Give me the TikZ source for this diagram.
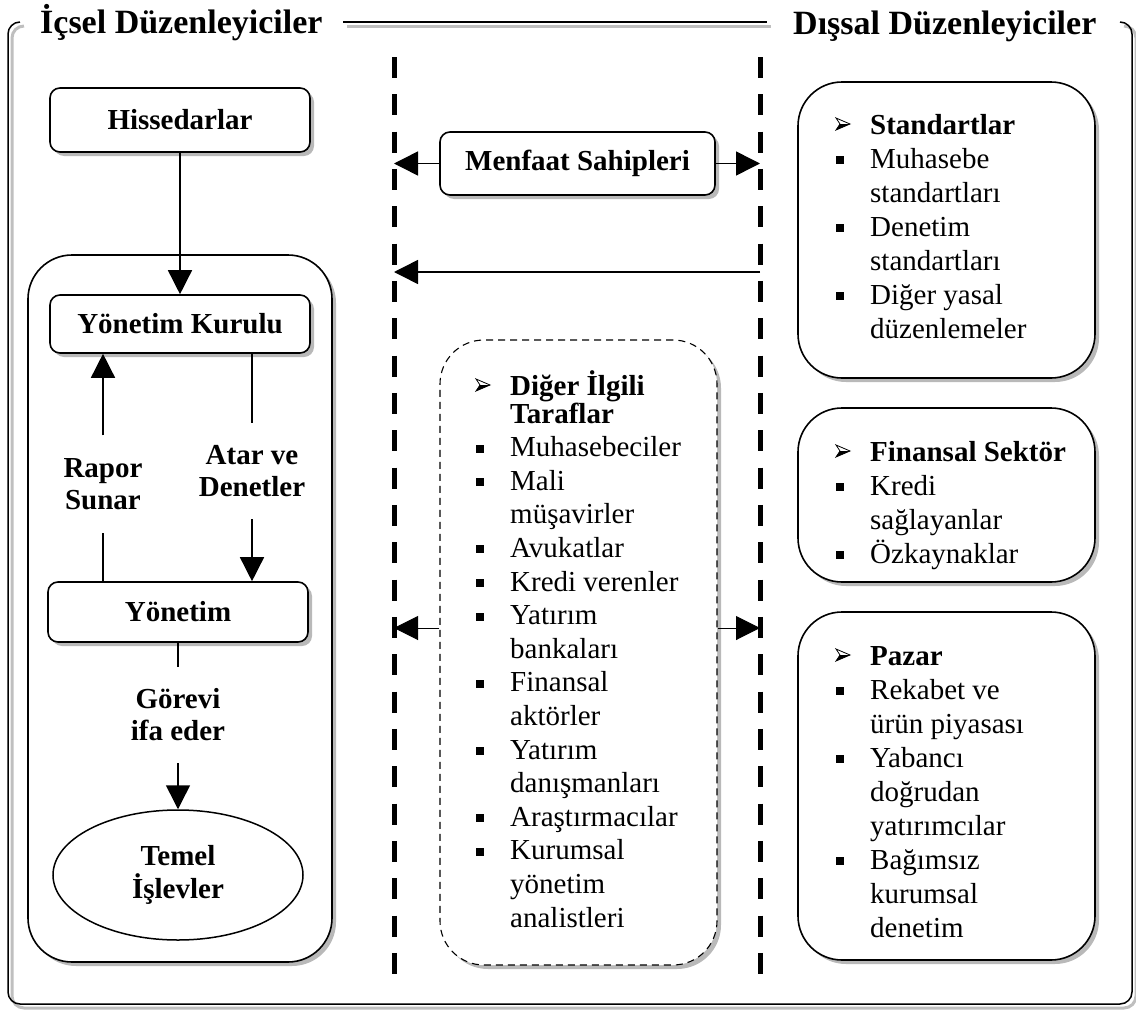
\documentclass[tikz,border=0pt]{standalone}
\usepackage{fontspec}
\setmainfont{Liberation Serif}
\usetikzlibrary{arrows.meta,shapes.geometric,shadows}

% list markers: small square for items, blank indent for headings and wrapped lines
\newcommand\itembul{\makebox[34pt][l]{\rule[4pt]{8pt}{8pt}}}
\newcommand\itemcont{\hspace*{34pt}}

\tikzset{
  softshadow/.style={general shadow={fill=gray!55, shadow xshift=4pt, shadow yshift=-4pt}},
  headbox/.style={draw, line width=1.6pt, fill=white, rounded corners=10pt, softshadow,
    font=\bfseries\fontsize{29}{32}\selectfont, inner sep=0pt},
  panel/.style={draw, line width=1.6pt, fill=white, rounded corners=44pt, softshadow, inner sep=0pt},
  dashpanel/.style={draw, line width=1.1pt, dash pattern=on 7pt off 5pt, fill=white,
    rounded corners=44pt, softshadow, inner sep=0pt},
  oval/.style={ellipse, draw, line width=1.5pt, fill=white, align=center,
    font=\bfseries\fontsize{29}{33}\selectfont, inner sep=0pt},
  flowlabel/.style={align=center, font=\bfseries\fontsize{29}{32}\selectfont, inner sep=0pt},
  listtext/.style={anchor=base west, inner sep=0pt, font=\fontsize{29}{34}\selectfont},
  title/.style={anchor=base west, inner sep=0pt, font=\bfseries\fontsize{34}{40}\selectfont},
  link/.style={line width=1.5pt},
  arrowlink/.style={line width=1.5pt, -{Triangle[length=24pt,width=24pt]}},
  thinarrow/.style={line width=1pt, -{Triangle[length=24pt,width=24pt]}},
  divider/.style={line width=5pt, dash pattern=on 21pt off 16.33pt},
  frameline/.style={line width=1.5pt},
  frameshade/.style={line width=3pt, draw=gray!50},
  % 3D arrowhead placed on a heading's baseline
  headmark/.pic={
    \fill (0,-4) -- (14,-10) -- (4,-10) -- cycle;
    \draw[line width=0.8pt, line join=miter] (0,-16) -- (14,-10) -- (0,-4) -- (4,-10) -- cycle;
  },
}

\begin{document}
\begin{tikzpicture}[x=1pt,y=-1pt]
\useasboundingbox (0,0) rectangle (1136,1012);

% outer frame with its shade, open at the two titles
\draw[frameshade] (24,26) [rounded corners=12pt] -- (12,26) -- (12,1008) -- (1136,1008) -- (1136,26) -- (1124,26);
\draw[frameshade] (347,26) -- (771,26);
\draw[frameline] (20,22) [rounded corners=12pt] -- (8,22) -- (8,1004) -- (1132,1004) -- (1132,22) -- (1120,22);
\draw[frameline, line width=2pt] (343,22) -- (767,22);

\node[title] (tin) at (40,33) {İçsel Düzenleyiciler};
\node[title] (tout) at (793,34) {Dışsal Düzenleyiciler};

% internal governance column
\node[panel, minimum width=304pt, minimum height=707pt] (inner) at (180,608.5) {};
\node[headbox, minimum width=260pt, minimum height=64pt] (hiss) at (180,120) {Hissedarlar};
\node[headbox, minimum width=260pt, minimum height=58pt] (kurul) at (180,324) {Yönetim Kurulu};
\node[headbox, minimum width=260pt, minimum height=60pt] (yon) at (178,612) {Yönetim};
\node[oval, minimum width=250pt, minimum height=130pt] (temel) at (178,875) {Temel\\İşlevler};

\draw[arrowlink] (hiss.south) -- (kurul.north);

\node[flowlabel, minimum height=97pt] (rapor) at (103,484) {Rapor\\Sunar};
\draw[link] (yon.north -| rapor) -- (rapor.south);
\draw[arrowlink] (rapor.north) -- (kurul.south -| rapor);

\node[flowlabel, minimum height=96pt] (atar) at (252,471) {Atar ve\\Denetler};
\draw[link] (kurul.south -| atar) -- (atar.north);
\draw[arrowlink] (atar.south) -- (yon.north -| atar);

\node[flowlabel, minimum height=96pt] (gorev) at (178,715) {Görevi\\ifa eder};
\draw[link] (yon.south) -- (gorev.north);
\draw[arrowlink] (gorev.south) -- (temel.north);

% stakeholder zone between the two dividers
\coordinate (Ltop) at (394,57);
\coordinate (Lbot) at (394,974);
\coordinate (Rtop) at (760,57);
\coordinate (Rbot) at (760,974);
\draw[divider] (Ltop) -- (Lbot);
\draw[divider] (Rtop) -- (Rbot);

\node[headbox, minimum width=275pt, minimum height=63pt] (menf) at (577.5,163.5) {Menfaat Sahipleri};
\draw[arrowlink] (menf.west) -- (menf.west -| Ltop);
\draw[arrowlink] (menf.east) -- (menf.east -| Rtop);

\coordinate (flowR) at (760,272);
\draw[arrowlink] (flowR) -- (flowR -| Ltop);

\node[dashpanel, minimum width=277pt, minimum height=625pt] (others) at (578.5,652.5) {};
\coordinate (sideY) at (578.5,628);
\draw[thinarrow] (sideY -| others.west) -- (sideY -| Ltop);
\draw[thinarrow] (sideY -| others.east) -- (sideY -| Rtop);

\node[listtext, font=\fontsize{29}{33.6}\selectfont] (otherlist) at (476,395) {%
\begin{tabular}[t]{@{}l@{}}
\itemcont\textbf{Diğer İlgili}\\[-5.6pt]
\itemcont\textbf{Taraflar}\\
\itembul Muhasebeciler\\
\itembul Mali\\
\itemcont müşavirler\\
\itembul Avukatlar\\
\itembul Kredi verenler\\
\itembul Yatırım\\
\itemcont bankaları\\
\itembul Finansal\\
\itemcont aktörler\\
\itembul Yatırım\\
\itemcont danışmanları\\
\itembul Araştırmacılar\\
\itembul Kurumsal\\
\itemcont yönetim\\
\itemcont analistleri
\end{tabular}};
\pic at (otherlist.base west) {headmark};

% external governance column
\node[panel, minimum width=297pt, minimum height=296pt] (stdbox) at (946.5,230) {};
\node[panel, minimum width=297pt, minimum height=174pt] (finbox) at (946.5,495) {};
\node[panel, minimum width=297pt, minimum height=348pt] (pazbox) at (946.5,786) {};

\node[listtext] (stdlist) at (836,134) {%
\begin{tabular}[t]{@{}l@{}}
\itemcont\textbf{Standartlar}\\
\itembul Muhasebe\\
\itemcont standartları\\
\itembul Denetim\\
\itemcont standartları\\
\itembul Diğer yasal\\
\itemcont düzenlemeler
\end{tabular}};
\pic at (stdlist.base west) {headmark};

\node[listtext] (finlist) at (836,461) {%
\begin{tabular}[t]{@{}l@{}}
\itemcont\textbf{Finansal Sektör}\\
\itembul Kredi\\
\itemcont sağlayanlar\\
\itembul Özkaynaklar
\end{tabular}};
\pic at (finlist.base west) {headmark};

\node[listtext] (pazlist) at (836,665) {%
\begin{tabular}[t]{@{}l@{}}
\itemcont\textbf{Pazar}\\
\itembul Rekabet ve\\
\itemcont ürün piyasası\\
\itembul Yabancı\\
\itemcont doğrudan\\
\itemcont yatırımcılar\\
\itembul Bağımsız\\
\itemcont kurumsal\\
\itemcont denetim
\end{tabular}};
\pic at (pazlist.base west) {headmark};

\end{tikzpicture}
\end{document}
